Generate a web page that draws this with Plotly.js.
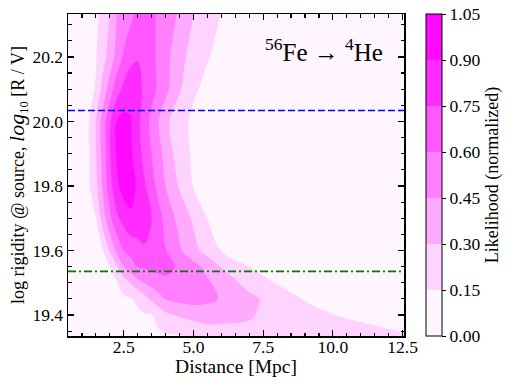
<!DOCTYPE html>
<html>
<head>
<meta charset="utf-8">
<script src="https://cdn.plot.ly/plotly-3.0.1.min.js"></script>
<style>
  html, body { margin: 0; padding: 0; background: #fff; }
  #chart { width: 515px; height: 387px; }
</style>
</head>
<body>
<div id="chart"></div>
<script>
// ---- data ----
// grid columns: source distance [Mpc]
const distance = [0.5, 1.0, 1.25, 1.5, 1.75, 2.0, 2.25, 2.5, 2.75, 3.0, 3.25, 3.5,
                  3.75, 4.0, 4.5, 5.0, 5.5, 6.0, 7.0, 8.0, 9.0, 10.0, 11.0, 12.55];
// grid rows: log10 rigidity at source [R / V]
const rigidity = [19.335, 19.4, 19.45, 19.5, 19.55, 19.6, 19.7, 19.8, 19.9, 20.0, 20.1, 20.2, 20.335];
// normalized likelihood, one row per rigidity value (bottom -> top)
const likelihood = [
  [0.02, 0.04, 0.04, 0.05, 0.06, 0.07, 0.08, 0.08, 0.09, 0.10, 0.11, 0.12, 0.12, 0.13, 0.14, 0.17, 0.20, 0.22, 0.27, 0.25, 0.23, 0.21, 0.19, 0.16],
  [0.02, 0.04, 0.05, 0.06, 0.07, 0.08, 0.09, 0.10, 0.12, 0.13, 0.14, 0.145, 0.20, 0.27, 0.32, 0.35, 0.38, 0.36, 0.31, 0.26, 0.20, 0.152, 0.13, 0.10],
  [0.02, 0.05, 0.06, 0.07, 0.09, 0.10, 0.11, 0.13, 0.14, 0.17, 0.25, 0.33, 0.40, 0.46, 0.49, 0.51, 0.48, 0.44, 0.34, 0.23, 0.14, 0.11, 0.08, 0.06],
  [0.02, 0.055, 0.07, 0.09, 0.11, 0.125, 0.14, 0.21, 0.31, 0.40, 0.46, 0.50, 0.53, 0.57, 0.55, 0.51, 0.47, 0.40, 0.24, 0.14, 0.10, 0.06, 0.05, 0.04],
  [0.02, 0.06, 0.08, 0.105, 0.125, 0.147, 0.28, 0.452, 0.54, 0.606, 0.62, 0.64, 0.655, 0.64, 0.58, 0.50, 0.405, 0.29, 0.148, 0.10, 0.06, 0.05, 0.04, 0.03],
  [0.02, 0.07, 0.095, 0.12, 0.145, 0.315, 0.48, 0.602, 0.645, 0.69, 0.736, 0.70, 0.65, 0.605, 0.47, 0.35, 0.24, 0.144, 0.10, 0.05, 0.043, 0.037, 0.03, 0.02],
  [0.02, 0.084, 0.117, 0.149, 0.375, 0.564, 0.72, 0.806, 0.876, 0.851, 0.803, 0.755, 0.651, 0.552, 0.398, 0.277, 0.147, 0.123, 0.074, 0.047, 0.041, 0.035, 0.029, 0.02],
  [0.02, 0.095, 0.132, 0.258, 0.475, 0.688, 0.867, 0.967, 0.956, 0.874, 0.767, 0.66, 0.553, 0.447, 0.282, 0.143, 0.12, 0.097, 0.05, 0.045, 0.039, 0.034, 0.028, 0.02],
  [0.02, 0.10, 0.14, 0.293, 0.497, 0.74, 0.922, 1.0, 0.922, 0.81, 0.697, 0.596, 0.497, 0.402, 0.211, 0.131, 0.104, 0.077, 0.048, 0.043, 0.038, 0.033, 0.028, 0.02],
  [0.02, 0.10, 0.14, 0.302, 0.512, 0.725, 0.905, 0.945, 0.911, 0.786, 0.669, 0.56, 0.452, 0.343, 0.187, 0.13, 0.103, 0.077, 0.048, 0.043, 0.038, 0.033, 0.028, 0.02],
  [0.02, 0.086, 0.118, 0.159, 0.354, 0.518, 0.684, 0.787, 0.852, 0.796, 0.722, 0.646, 0.569, 0.493, 0.321, 0.163, 0.127, 0.101, 0.05, 0.045, 0.039, 0.034, 0.028, 0.02],
  [0.02, 0.081, 0.112, 0.143, 0.242, 0.37, 0.504, 0.623, 0.705, 0.742, 0.688, 0.633, 0.571, 0.499, 0.349, 0.241, 0.155, 0.126, 0.075, 0.047, 0.041, 0.035, 0.029, 0.02],
  [0.02, 0.075, 0.102, 0.129, 0.181, 0.311, 0.452, 0.506, 0.562, 0.623, 0.694, 0.632, 0.574, 0.528, 0.43, 0.303, 0.219, 0.146, 0.098, 0.05, 0.043, 0.037, 0.03, 0.02]
];
const levelTicks = [0, 0.15, 0.30, 0.45, 0.60, 0.75, 0.90, 1.05];
const rigidityUpper = 20.034;   // blue dashed
const rigidityLower = 19.535;   // green dash-dot

// ---- traces ----
const SERIF = "Liberation Serif, 'Times New Roman', serif";
// one stop per filled band (plotly picks band colours at k/8)
const magenta = [
  [0, "rgb(255,255,255)"], [0.125, "rgb(255,237,255)"], [0.25, "rgb(255,200,255)"],
  [0.375, "rgb(255,164,255)"], [0.5, "rgb(255,127,255)"], [0.625, "rgb(255,91,255)"],
  [0.75, "rgb(255,55,255)"], [0.875, "rgb(255,18,255)"], [1, "rgb(255,0,255)"]
];

const contour = {
  type: "contour", x: distance, y: rigidity, z: likelihood,
  colorscale: magenta, zmin: 0, zmax: 1.05,
  contours: { start: levelTicks[0], end: levelTicks[levelTicks.length - 1], size: 0.15,
              coloring: "fill", showlines: false },
  line: { width: 0, smoothing: 1 },
  hoverinfo: "skip",
  colorbar: {
    x: 1.064, xanchor: "left", y: 0.5, yanchor: "middle", len: 1, lenmode: "fraction",
    thickness: 16, thicknessmode: "pixels", xpad: 0, ypad: 0,
    outlinewidth: 1, outlinecolor: "#000",
    tickvals: levelTicks, tickformat: ".2f", ticks: "outside", ticklen: 4, tickcolor: "#000",
    tickfont: { family: SERIF, size: 17.5, color: "#000" },
    title: { text: "Likelihood (normalized)", side: "right",
             font: { family: SERIF, size: 18, color: "#000" } }
  }
};

const xEnds = [distance[0], distance[distance.length - 1]];
const upperLine = { type: "scatter", mode: "lines", x: xEnds, y: [rigidityUpper, rigidityUpper],
  line: { color: "#0000ff", width: 1.6, dash: "7px,3px" }, hoverinfo: "skip" };
const lowerLine = { type: "scatter", mode: "lines", x: xEnds, y: [rigidityLower, rigidityLower],
  line: { color: "#008000", width: 1.8, dash: "8px,3px,2px,3px" }, hoverinfo: "skip" };

function axisStyle(extra) {
  return Object.assign({
    ticks: "inside", ticklen: 6, tickwidth: 1.2, tickcolor: "#000",
    showline: true, linecolor: "#000", linewidth: 1.5, mirror: "allticks",
    showgrid: false, zeroline: false,
    tickfont: { family: SERIF, size: 17.5, color: "#000" }
  }, extra);
}

const layout = {
  width: 515, height: 387,
  margin: { l: 68, r: 102, t: 14, b: 51 },
  paper_bgcolor: "#fff", plot_bgcolor: "#fff",
  font: { family: SERIF, size: 17, color: "#000" },
  showlegend: false,
  xaxis: axisStyle({
    range: [0.5, 12.55], tick0: 0, dtick: 2.5, tickformat: ".1f", ticklabelstandoff: -6,
    minor: { tick0: 0, dtick: 0.5, ticks: "inside", ticklen: 3.5, tickcolor: "#000" },
    title: { text: "Distance [Mpc]", font: { family: SERIF, size: 19.5 }, standoff: 2 }
  }),
  yaxis: axisStyle({
    range: [19.335, 20.333], tick0: 19.4, dtick: 0.2, tickformat: ".1f",
    minor: { tick0: 19.4, dtick: 0.05, ticks: "inside", ticklen: 3.5, tickcolor: "#000" },
    title: { text: "log rigidity @ source, <span style='font-size:22px'><i>log</i></span><sub>10</sub> [R / V]",
             font: { family: SERIF, size: 18 }, standoff: 3 }
  }),
  annotations: [{
    text: "<sup>56</sup>Fe → <sup>4</sup>He", xref: "paper", yref: "paper",
    x: 0.762, y: 0.888, xanchor: "center", yanchor: "middle", showarrow: false,
    font: { family: SERIF, size: 25, color: "#000" }
  }]
};

Plotly.newPlot("chart", [contour, upperLine, lowerLine], layout, { displayModeBar: false, staticPlot: true });
</script>
</body>
</html>
